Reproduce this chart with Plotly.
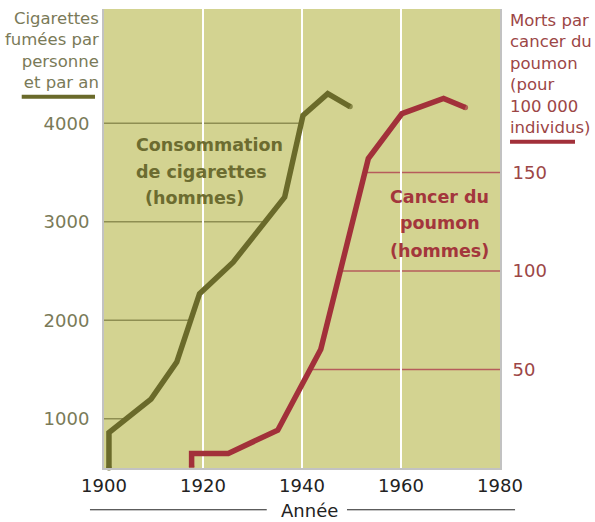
import numpy as np
import plotly.graph_objects as go

# ---- data ----
cig_years = [1901, 1901, 1909.5, 1914.7, 1919.3, 1926.1, 1936.5, 1940.2, 1945.2, 1949.7]
cig_values = [500, 860, 1200, 1575, 2270, 2590, 3250, 4080, 4300, 4170]

cancer_years = [1917.7, 1917.7, 1925.1, 1935.1, 1943.8, 1953.4, 1960.2, 1968.6, 1973.0]
cancer_values = [0.5, 7.4, 7.4, 19.2, 60.3, 157.1, 179.9, 187.6, 183.0]

x_ticks = [1900, 1920, 1940, 1960, 1980]
left_ticks = [1000, 2000, 3000, 4000]
right_ticks = [50, 100, 150]

GREEN = "#6a6a2a"
GREEN_TXT = "#6c6c30"
GREEN_AX = "#7a7a58"
GREEN_GRID = "#8e8e52"
RED = "#a2303a"
RED_TXT = "#a3363c"
RED_AX = "#9c4646"
RED_GRID = "#b65c5c"
BG = "#d3d391"
FONT = "DejaVu Sans"

fig = go.Figure()


def ends(n, s):
    return [s] + [0] * (n - 2) + [s]


fig.add_trace(go.Scatter(
    x=cig_years, y=cig_values, mode="lines+markers", yaxis="y",
    line=dict(color=GREEN, width=5.5),
    marker=dict(size=ends(len(cig_years), 5.5), color=GREEN, line=dict(width=0)),
    cliponaxis=False, showlegend=False, hoverinfo="skip"))
fig.add_trace(go.Scatter(
    x=cancer_years, y=cancer_values, mode="lines+markers", yaxis="y2",
    line=dict(color=RED, width=5.5),
    marker=dict(size=ends(len(cancer_years), 5.5), color=RED, line=dict(width=0)),
    cliponaxis=False, showlegend=False, hoverinfo="skip"))

shapes = []
# partial gridlines: left axis from the left edge to the cigarette curve
peak_c = int(np.argmax(cig_values))
for v in left_ticks:
    xc = float(np.interp(v, cig_values[1:peak_c + 1], cig_years[1:peak_c + 1]))
    shapes.append(dict(type="line", xref="x", yref="y", x0=x_ticks[0], x1=xc, y0=v, y1=v,
                       line=dict(color=GREEN_GRID, width=1.5), layer="below"))
peak_r = int(np.argmax(cancer_values))
for v in right_ticks:
    xc = float(np.interp(v, cancer_values[2:peak_r + 1], cancer_years[2:peak_r + 1]))
    shapes.append(dict(type="line", xref="x", yref="y2", x0=xc, x1=x_ticks[-1], y0=v, y1=v,
                       line=dict(color=RED_GRID, width=1.5), layer="below"))

# axis title underlines and the "Année" rule
shapes += [
    dict(type="line", xref="paper", yref="paper", x0=-0.2078, x1=-0.0227, y0=0.809, y1=0.809,
         line=dict(color=GREEN, width=4)),
    dict(type="line", xref="paper", yref="paper", x0=1.0253, x1=1.1894, y0=0.711, y1=0.711,
         line=dict(color=RED, width=4)),
    dict(type="line", xref="paper", yref="paper", x0=-0.0354, x1=0.411, y0=-0.091, y1=-0.091,
         line=dict(color="#222222", width=1)),
    dict(type="line", xref="paper", yref="paper", x0=0.6136, x1=1.038, y0=-0.091, y1=-0.091,
         line=dict(color="#222222", width=1)),
]

annotations = [
    dict(text="Cigarettes<br>fumées par<br>personne<br>et par an", xref="paper", yref="paper",
         x=-0.008, y=0.9096, xanchor="right", yanchor="middle", align="right", showarrow=False,
         font=dict(family=FONT, size=16.5, color=GREEN_AX)),
    dict(text="Morts par<br>cancer du<br>poumon<br>(pour<br>100 000<br>individus)", xref="paper", yref="paper",
         x=1.0203, y=0.858, xanchor="left", yanchor="middle", align="left", showarrow=False,
         font=dict(family=FONT, size=16.5, color=RED_AX)),
    dict(text="Année", xref="paper", yref="paper", x=0.52, y=-0.093, xanchor="center", yanchor="middle",
         showarrow=False, font=dict(family=FONT, size=18, color="#222222")),
]

green_lines = [("Consommation", 1906.1, 3779), ("de cigarettes", 1906.1, 3508), ("(hommes)", 1907.8, 3238)]
for t, x, y in green_lines:
    annotations.append(dict(text="<b>%s</b>" % t, xref="x", yref="y", x=x, y=y, xanchor="left",
                            yanchor="middle", showarrow=False,
                            font=dict(family=FONT, size=17.5, color=GREEN_TXT)))
red_lines = [("Cancer du", 1967.8, 137.7), ("poumon", 1967.8, 124.2), ("(hommes)", 1967.8, 110.3)]
for t, x, y in red_lines:
    annotations.append(dict(text="<b>%s</b>" % t, xref="x", yref="y2", x=x, y=y, xanchor="center",
                            yanchor="middle", showarrow=False,
                            font=dict(family=FONT, size=17.5, color=RED_TXT)))

fig.update_layout(
    width=595, height=522,
    margin=dict(l=104, r=95, t=9, b=54),
    paper_bgcolor="white", plot_bgcolor=BG,
    font=dict(family=FONT),
    xaxis=dict(range=[x_ticks[0], x_ticks[-1]], tickvals=x_ticks, ticks="",
               showgrid=True, gridcolor="white", gridwidth=2, zeroline=False,
               showline=True, linecolor="#c2c2c2", linewidth=2, mirror=False,
               tickfont=dict(family=FONT, size=18, color="#222222")),
    yaxis=dict(range=[500, 5160], tickvals=left_ticks, ticks="", showgrid=False, zeroline=False,
               showline=True, linecolor="#c2c2c2", linewidth=2, ticklabelstandoff=9,
               tickfont=dict(family=FONT, size=18, color=GREEN_AX)),
    yaxis2=dict(range=[0, 233], tickvals=right_ticks, ticks="", showgrid=False, zeroline=False,
                overlaying="y", side="right", ticklabelstandoff=7,
                showline=True, linecolor="#c2c2c2", linewidth=2,
                tickfont=dict(family=FONT, size=18, color=RED_AX)),
    shapes=shapes, annotations=annotations,
)

fig.write_html("out.html", config={"displayModeBar": False},
               post_script="document.body.style.margin='0';")
